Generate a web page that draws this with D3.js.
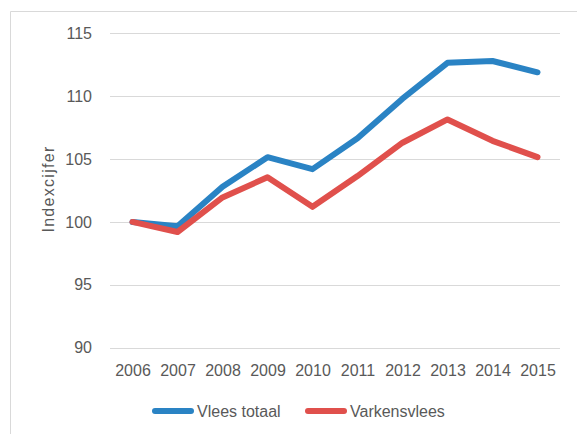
<!DOCTYPE html>
<html>
<head>
<meta charset="utf-8">
<script src="https://cdn.jsdelivr.net/npm/d3@7"></script>
<style>
  html, body { margin: 0; padding: 0; background: #fff; }
  svg { display: block; }
  text { font-family: "Liberation Sans", Arial, sans-serif; fill: #595959; }
</style>
</head>
<body>
<svg id="chart" width="577" height="434"></svg>
<script>
const years = ["2006","2007","2008","2009","2010","2011","2012","2013","2014","2015"];
const vleesTotaal = [100, 99.65, 102.8, 105.15, 104.2, 106.65, 109.8, 112.65, 112.8, 111.9];
const varkensvlees = [100, 99.2, 101.95, 103.55, 101.2, 103.65, 106.3, 108.15, 106.45, 105.15];
const yTicks = [90, 95, 100, 105, 110, 115];
const seriesNames = ["Vlees totaal", "Varkensvlees"];
const seriesColors = ["#2a83c4", "#e0504c"];
const yTitle = "Indexcijfer";

const svg = d3.select("#chart");

// chart border
svg.append("path")
  .attr("d", "M10.5,434 V11.5 H577")
  .attr("fill", "none")
  .attr("stroke", "#d9d9d9")
  .attr("stroke-width", 1);

const x = d3.scalePoint().domain(years).range([110, 560]).padding(0.5);
const y = d3.scaleLinear().domain([90, 115]).range([347.7, 33.3]);

// gridlines
svg.append("g").selectAll("line").data(yTicks).join("line")
  .attr("x1", 110).attr("x2", 560)
  .attr("y1", d => Math.round(y(d)) + 0.5)
  .attr("y2", d => Math.round(y(d)) + 0.5)
  .attr("stroke", "#d9d9d9").attr("stroke-width", 1.2);

// y axis labels
const yAxis = d3.axisLeft(y).tickValues(yTicks).tickSize(0).tickPadding(0);
const gy = svg.append("g").attr("transform", "translate(92,0)").call(yAxis);
gy.select(".domain").remove();
gy.selectAll("text").attr("font-size", 16).attr("fill", "#595959")
  .style("font-family", "'Liberation Sans', Arial, sans-serif");

// x axis labels
const xAxis = d3.axisBottom(x).tickSize(0).tickPadding(0);
const gx = svg.append("g").attr("transform", "translate(0,365)").call(xAxis);
gx.select(".domain").remove();
gx.selectAll("text").attr("font-size", 16).attr("fill", "#595959")
  .attr("dy", "0.71em")
  .style("font-family", "'Liberation Sans', Arial, sans-serif");

// y title
svg.append("text")
  .attr("transform", "translate(54,189) rotate(-90)")
  .attr("text-anchor", "middle")
  .attr("font-size", 16)
  .attr("letter-spacing", 1.3)
  .text(yTitle);

// lines
const line = d3.line().x((d, i) => x(years[i])).y(d => y(d));
[vleesTotaal, varkensvlees].forEach((s, k) => {
  svg.append("path")
    .datum(s)
    .attr("d", line)
    .attr("fill", "none")
    .attr("stroke", seriesColors[k])
    .attr("stroke-width", 6)
    .attr("stroke-linejoin", "round")
    .attr("stroke-linecap", "round");
});

// legend
const legendX = [155, 308];
seriesNames.forEach((n, k) => {
  const g = svg.append("g").attr("transform", `translate(${legendX[k]},411)`);
  g.append("line").attr("x1", 0).attr("x2", 36).attr("y1", 0).attr("y2", 0)
    .attr("stroke", seriesColors[k]).attr("stroke-width", 6).attr("stroke-linecap", "round");
  g.append("text").attr("x", 42).attr("y", 0).attr("dy", "0.36em")
    .attr("font-size", 16).text(n);
});
</script>
</body>
</html>
